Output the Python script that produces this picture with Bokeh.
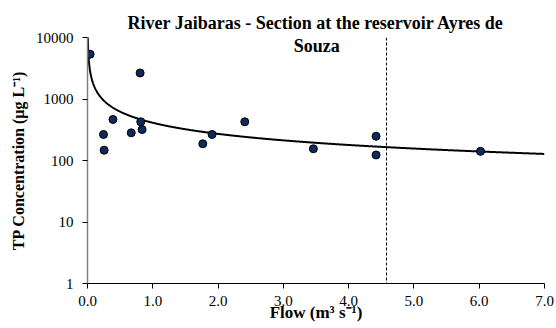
import numpy as np
from bokeh.plotting import figure
from bokeh.models import FixedTicker, PrintfTickFormatter, Span, Label
from bokeh.embed import file_html
from bokeh.resources import INLINE

# Data
flow = [0.04, 0.245, 0.255, 0.39, 0.67, 0.806, 0.816, 0.836, 1.766, 1.908, 2.409, 3.46, 4.42, 4.42, 6.02]
tp_conc = [5340, 265, 147, 465, 282, 2650, 426, 319, 187, 265, 426, 155, 248, 123, 141]
x_ticks = [0, 1, 2, 3, 4, 5, 6, 7]
y_ticks = [1, 10, 100, 1000, 10000]
# power trend line y = a * x^b (as drawn in the reference)
trend_a = 411.0
trend_b = -0.6
threshold_flow = 4.58
title_line1 = "River Jaibaras - Section at the reservoir Ayres de"
title_line2 = "Souza"

SERIF = "Liberation Serif"

p = figure(frame_width=457, frame_height=246, min_border_left=87, min_border_right=12,
           min_border_top=37, min_border_bottom=45,
           x_range=(0, 7), y_range=(1, 10000), y_axis_type="log",
           output_backend="svg", toolbar_location=None)
p.outline_line_color = None
p.xgrid.grid_line_color = None
p.ygrid.grid_line_color = None
p.background_fill_color = "white"
p.border_fill_color = "white"

p.title.text = title_line1
p.title.align = "center"
p.title.text_font = SERIF
p.title.text_font_style = "bold"
p.title.text_font_size = "18px"
p.title.text_color = "black"
p.title.standoff = 10

# axes
xa = p.xaxis[0]
xa.ticker = FixedTicker(ticks=x_ticks)
xa.formatter = PrintfTickFormatter(format="%.1f")
xa.axis_label = "Flow (m³ s⁻¹)"
xa.axis_line_color = "black"
xa.major_tick_line_color = "black"
xa.minor_tick_line_color = None
xa.major_tick_in = 0
xa.major_tick_out = 5
xa.major_label_standoff = 7
xa.major_label_text_font = SERIF
xa.major_label_text_font_size = "15px"
xa.major_label_text_color = "black"
xa.axis_label_text_font = SERIF
xa.axis_label_text_font_style = "bold"
xa.axis_label_text_font_size = "17px"
xa.axis_label_text_color = "black"
xa.axis_label_standoff = -6

ya = p.yaxis[0]
ya.ticker = FixedTicker(ticks=y_ticks)
ya.formatter = PrintfTickFormatter(format="%d")
ya.axis_label = "TP Concentration (µg L⁻¹)"
ya.axis_line_color = "#808080"
ya.axis_line_width = 1.5
ya.major_tick_line_color = "black"
ya.minor_tick_line_color = None
ya.major_tick_in = 0
ya.major_tick_out = 5
ya.major_label_standoff = 9
ya.major_label_text_font = SERIF
ya.major_label_text_font_size = "15px"
ya.major_label_text_color = "black"
ya.axis_label_text_font = SERIF
ya.axis_label_text_font_style = "bold"
ya.axis_label_text_font_size = "16px"
ya.axis_label_text_color = "black"
ya.axis_label_standoff = 6

# trend line
xs = np.linspace(0.001, 7, 1500)
ys = trend_a * xs ** trend_b
p.line(xs, ys, line_color="black", line_width=2)

# threshold line
p.add_layout(Span(location=threshold_flow, dimension="height", line_color="black",
                  line_width=1, line_dash="3 2"))

# points
p.scatter(flow, tp_conc, size=8, fill_color="#0c2a5b", line_color="black", line_width=1)

# second title line, just below the top of the plot area
p.add_layout(Label(x=3.51, y=7300, text=title_line2, text_align="center", text_baseline="alphabetic",
                   text_font=SERIF, text_font_style="bold", text_font_size="18px",
                   text_color="black"))

open("out.html", "w").write(file_html(p, INLINE))
